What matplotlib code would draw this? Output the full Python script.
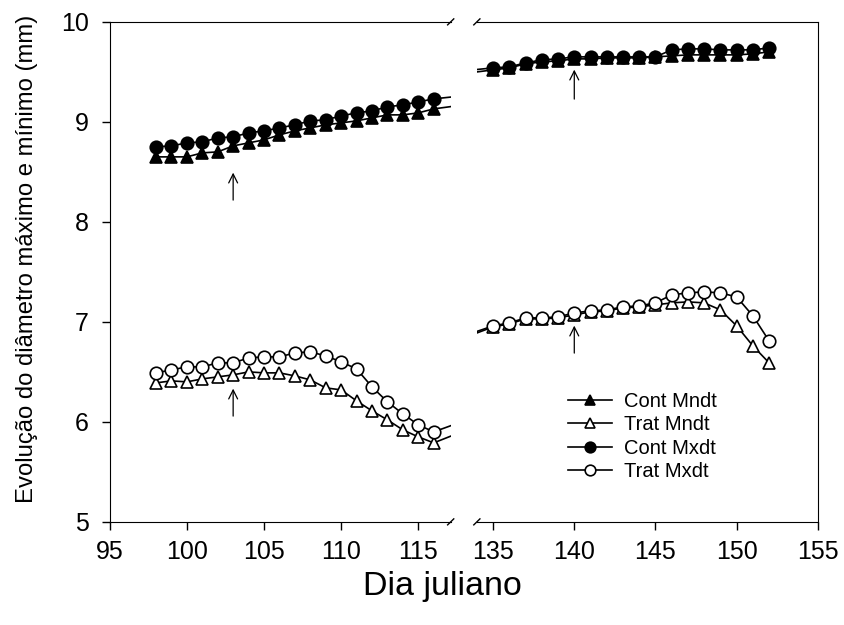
import matplotlib.pyplot as plt

plt.rcParams['font.family'] = ['Liberation Sans', 'DejaVu Sans']

# Dia juliano
dias = [98, 99, 100, 101, 102, 103, 104, 105, 106, 107, 108, 109, 110, 111, 112, 113, 114, 115, 116,
        135, 136, 137, 138, 139, 140, 141, 142, 143, 144, 145, 146, 147, 148, 149, 150, 151, 152]

cont_mndt = [8.65, 8.65, 8.65, 8.69, 8.70, 8.76, 8.79, 8.82, 8.87, 8.91, 8.94, 8.97, 8.99, 9.01,
             9.04, 9.07, 9.07, 9.09, 9.13,
             9.52, 9.54, 9.58, 9.60, 9.61, 9.63, 9.63, 9.64, 9.64, 9.64, 9.65, 9.66, 9.67, 9.67,
             9.67, 9.67, 9.68, 9.70]
trat_mndt = [6.39, 6.41, 6.40, 6.43, 6.45, 6.47, 6.50, 6.49, 6.49, 6.46, 6.42, 6.34, 6.32, 6.21,
             6.11, 6.02, 5.92, 5.85, 5.79,
             6.95, 6.98, 7.03, 7.03, 7.04, 7.07, 7.10, 7.11, 7.14, 7.15, 7.17, 7.19, 7.20, 7.19,
             7.12, 6.96, 6.76, 6.59]
cont_mxdt = [8.75, 8.76, 8.79, 8.80, 8.84, 8.85, 8.89, 8.91, 8.94, 8.97, 9.01, 9.02, 9.06, 9.09,
             9.11, 9.15, 9.17, 9.20, 9.23,
             9.54, 9.55, 9.59, 9.62, 9.63, 9.65, 9.65, 9.65, 9.65, 9.65, 9.65, 9.72, 9.73, 9.73,
             9.72, 9.72, 9.72, 9.74]
trat_mxdt = [6.49, 6.52, 6.55, 6.55, 6.59, 6.59, 6.64, 6.65, 6.65, 6.69, 6.70, 6.66, 6.60, 6.53,
             6.35, 6.20, 6.08, 5.97, 5.90,
             6.96, 6.99, 7.04, 7.04, 7.05, 7.09, 7.11, 7.12, 7.15, 7.16, 7.19, 7.27, 7.29, 7.30,
             7.29, 7.25, 7.06, 6.81]

# arrows: (x, y_start, y_end)
setas = [(103, 8.19, 8.52), (103, 6.03, 6.36), (140, 9.20, 9.55), (140, 6.66, 6.99)]

series = [
    ('Cont Mndt', cont_mndt, '^', 'black'),
    ('Trat Mndt', trat_mndt, '^', 'white'),
    ('Cont Mxdt', cont_mxdt, 'o', 'black'),
    ('Trat Mxdt', trat_mxdt, 'o', 'white'),
]

fig = plt.figure(figsize=(8.44, 6.25), dpi=100)
ax1 = fig.add_axes([0.130, 0.165, 0.404, 0.80])
ax2 = fig.add_axes([0.565, 0.165, 0.404, 0.80])

for ax in (ax1, ax2):
    for label, vals, mk, fc in series:
        ax.plot(dias, vals, '-', color='black', lw=1.2, marker=mk, ms=9,
                mfc=fc, mec='black', mew=1.2, label=label)
    for x, y0, y1 in setas:
        ax.annotate('', xy=(x, y1), xytext=(x, y0),
                    arrowprops=dict(arrowstyle='->', color='black', lw=0.9,
                                    mutation_scale=16))
    ax.set_ylim(5, 10)
    ax.tick_params(direction='out', labelsize=18, length=6, width=1)
    ax.tick_params(axis='x', pad=7)
    ax.tick_params(axis='y', pad=9)

ax1.set_xlim(95, 117.1)
ax1.set_xticks([95, 100, 105, 110, 115])
ax1.spines['right'].set_visible(False)
ax1.set_yticks([5, 6, 7, 8, 9, 10])

ax2.set_xlim(134, 155)
ax2.set_xticks([135, 140, 145, 150, 155])
ax2.spines['left'].set_visible(False)
ax2.tick_params(axis='y', left=False, labelleft=False)

# break marks
dx, dy = 0.009, 0.006
kw = dict(color='black', lw=1, clip_on=False)
ax1.plot([1 - dx, 1 + dx], [-dy, dy], transform=ax1.transAxes, **kw)
ax1.plot([1 - dx, 1 + dx], [1 - dy, 1 + dy], transform=ax1.transAxes, **kw)
ax2.plot([-dx, dx], [-dy, dy], transform=ax2.transAxes, **kw)
ax2.plot([-dx, dx], [1 - dy, 1 + dy], transform=ax2.transAxes, **kw)

ax1.set_ylabel('Evolução do diâmetro máximo e mínimo (mm)', fontsize=17.2)
ax1.yaxis.set_label_coords(-0.211, 0.526)
fig.text(0.524, 0.062, 'Dia juliano', ha='center', va='center', fontsize=24.5)

ax2.legend(loc='upper left', bbox_to_anchor=(0.243, 0.276), frameon=False,
           fontsize=14.5, handlelength=2.2, handletextpad=0.6, labelspacing=0.22,
           borderaxespad=0, markerscale=0.85)

fig.savefig('out.png', dpi=100)
